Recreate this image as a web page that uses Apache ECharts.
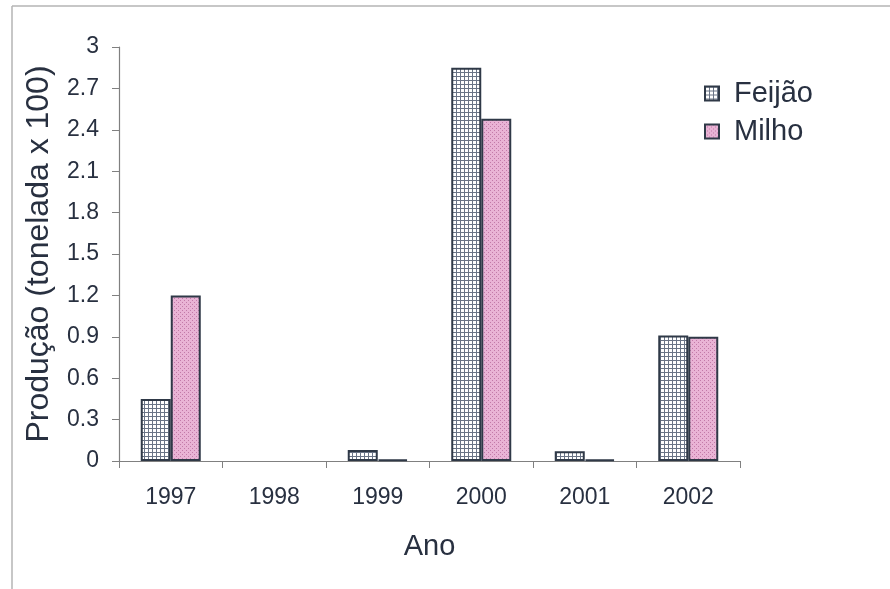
<!DOCTYPE html>
<html>
<head>
<meta charset="utf-8">
<script src="https://cdn.jsdelivr.net/npm/echarts@6/dist/echarts.min.js"></script>
<style>
  html, body { margin: 0; padding: 0; background: #fff; }
  #chart { width: 890px; height: 589px; }
</style>
</head>
<body>
<div id="chart"></div>
<script>
// Annual production (tonnes x 100)
const years = ['1997', '1998', '1999', '2000', '2001', '2002'];
const feijao = [0.45, 0, 0.08, 2.85, 0.07, 0.91];
const milho = [1.2, 0, 0.01, 2.48, 0.01, 0.9];
const seriesNames = ['Feijão', 'Milho'];
const yTicks = [0, 0.3, 0.6, 0.9, 1.2, 1.5, 1.8, 2.1, 2.4, 2.7, 3];

// Fill patterns: crosshatched grid and dotted pink
function gridPattern() {
  const c = document.createElement('canvas');
  c.width = 4; c.height = 4;
  const g = c.getContext('2d');
  g.fillStyle = '#ffffff';
  g.fillRect(0, 0, 4, 4);
  g.fillStyle = '#6a7486';
  g.fillRect(0, 0, 4, 1);
  g.fillRect(0, 0, 1, 4);
  return c;
}
function dotPattern() {
  const c = document.createElement('canvas');
  c.width = 4; c.height = 4;
  const g = c.getContext('2d');
  g.fillStyle = '#e9b3d5';
  g.fillRect(0, 0, 4, 4);
  g.fillStyle = '#c27aa8';
  g.fillRect(0, 0, 1, 1);
  g.fillRect(2, 2, 1, 1);
  return c;
}

// Zero-height bars carry no outline
function barData(values) {
  return values.map(v => v === 0 ? { value: v, itemStyle: { borderWidth: 0 } } : v);
}

const textColor = '#283040';
const axisColor = '#808080';

const chart = echarts.init(document.getElementById('chart'), null, { renderer: 'canvas' });
chart.setOption({
  backgroundColor: '#ffffff',
  animation: false,
  textStyle: { fontFamily: 'Liberation Sans, Arial, sans-serif', color: textColor },
  grid: { left: 119, right: 150, top: 47, bottom: 128 },
  legend: {
    orient: 'vertical',
    left: 699,
    top: 74,
    itemWidth: 14,
    itemHeight: 14,
    itemGap: 9,
    icon: 'rect',
    data: seriesNames,
    itemStyle: { borderColor: '#2f3947', borderWidth: 2 },
    textStyle: { fontSize: 29, color: textColor, padding: [0, 0, 0, 10] }
  },
  xAxis: {
    type: 'category',
    data: years,
    name: 'Ano',
    nameLocation: 'middle',
    nameGap: 71,
    nameTextStyle: { fontSize: 29, color: textColor },
    axisLine: { lineStyle: { color: axisColor, width: 1.2 } },
    axisTick: { show: true, alignWithLabel: false, length: 7, lineStyle: { color: axisColor } },
    axisLabel: { fontSize: 23, color: textColor, margin: 25 },
    splitLine: { show: false }
  },
  yAxis: {
    type: 'value',
    min: 0,
    max: 3,
    interval: 0.3,
    name: 'Produção (tonelada x 100)',
    nameLocation: 'middle',
    nameGap: 64,
    nameTextStyle: { fontSize: 32, color: textColor },
    axisLine: { show: true, lineStyle: { color: axisColor, width: 1.2 } },
    axisTick: { show: true, length: 7, lineStyle: { color: axisColor } },
    axisLabel: {
      fontSize: 23,
      color: textColor,
      margin: 20,
      formatter: v => {
        const t = yTicks.find(x => Math.abs(x - v) < 1e-6);
        return String(t !== undefined ? t : +v.toFixed(1));
      }
    },
    splitLine: { show: false }
  },
  graphic: [
    { type: 'line', shape: { x1: 12, y1: 6, x2: 890, y2: 6 }, style: { stroke: '#b5b5b5', lineWidth: 1.5 } },
    { type: 'line', shape: { x1: 12, y1: 6, x2: 12, y2: 589 }, style: { stroke: '#b5b5b5', lineWidth: 1.5 } }
  ],
  series: [
    {
      name: seriesNames[0],
      type: 'bar',
      data: barData(feijao),
      barWidth: 30,
      barGap: '0%',
      itemStyle: {
        color: { image: gridPattern(), repeat: 'repeat' },
        borderColor: '#2f3947',
        borderWidth: 2
      }
    },
    {
      name: seriesNames[1],
      type: 'bar',
      data: barData(milho),
      barWidth: 30,
      itemStyle: {
        color: { image: dotPattern(), repeat: 'repeat' },
        borderColor: '#2f3947',
        borderWidth: 2
      }
    }
  ]
});
</script>
</body>
</html>
